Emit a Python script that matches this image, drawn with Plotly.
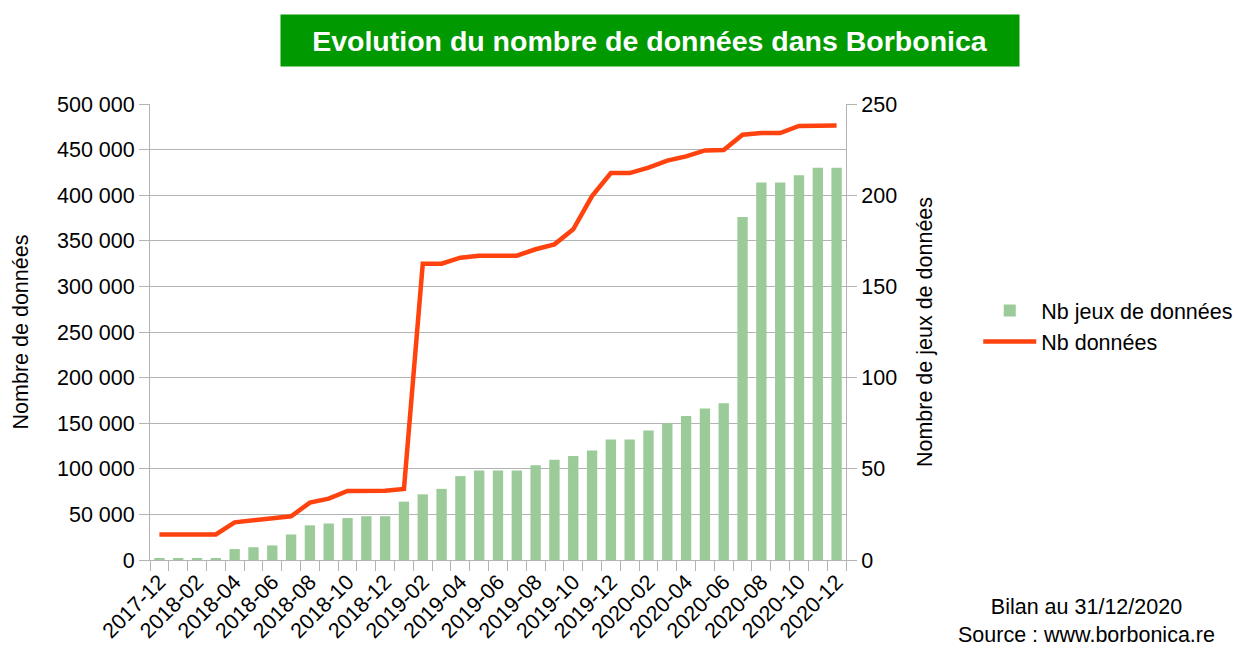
import plotly.graph_objects as go

months = ["2017-12", "2018-01", "2018-02", "2018-03", "2018-04", "2018-05", "2018-06",
          "2018-07", "2018-08", "2018-09", "2018-10", "2018-11", "2018-12",
          "2019-01", "2019-02", "2019-03", "2019-04", "2019-05", "2019-06",
          "2019-07", "2019-08", "2019-09", "2019-10", "2019-11", "2019-12",
          "2020-01", "2020-02", "2020-03", "2020-04", "2020-05", "2020-06",
          "2020-07", "2020-08", "2020-09", "2020-10", "2020-11", "2020-12"]

nb_jeux = [1, 1, 1, 1, 6, 7, 8, 14, 19, 20, 23, 24, 24, 32, 36, 39, 46, 49, 49,
           49, 52, 55, 57, 60, 66, 66, 71, 75, 79, 83, 86, 188, 207, 207, 211, 215, 215]

nb_donnees = [28000, 28000, 28000, 28000, 41300, 43900, 45700, 47900, 62900, 67300,
              75700, 76000, 76000, 77900, 324900, 324900, 331500, 333500, 333700,
              333700, 340700, 346100, 362600, 399100, 424300, 424300, 430200, 437900,
              442600, 449100, 449500, 466400, 468200, 468200, 475900, 476300, 476300]

idx = list(range(len(months)))
tick_idx = idx[::2]
tick_txt = months[::2]

FONT = "Liberation Sans, Arial, sans-serif"
GRID = "#b3b3b3"
FS = 21.5

fig = go.Figure()
fig.add_trace(go.Bar(x=idx, y=nb_jeux, name="Nb jeux de données", yaxis="y2",
                     marker=dict(color="#9bcb98", line=dict(width=0)), width=0.55))
fig.add_trace(go.Scatter(x=idx, y=nb_donnees, name="Nb données", mode="lines",
                         line=dict(color="#ff420e", width=4.5)))

fig.update_layout(
    width=1240, height=646,
    margin=dict(l=150, r=394, t=104, b=86, autoexpand=False),
    paper_bgcolor="white", plot_bgcolor="white",
    font=dict(family=FONT, size=FS, color="#000000"),
    separators=", ",
    showlegend=True,
    legend=dict(x=1.19, y=0.513, xanchor="left", yanchor="middle",
                font=dict(size=FS), traceorder="normal", itemwidth=53,
                bgcolor="rgba(0,0,0,0)"),
    xaxis=dict(range=[-0.5, len(months) - 0.5], tickvals=tick_idx, ticktext=tick_txt,
               tickangle=-45, ticks="", showgrid=False, showline=True, linecolor=GRID,
               linewidth=1, zeroline=False, tickfont=dict(size=FS), automargin=False,
               minor=dict(ticks="outside", tick0=-0.5, dtick=1, ticklen=10,
                          tickcolor=GRID, showgrid=False)),
    yaxis=dict(range=[0, 500000], dtick=50000, tickformat=",d", showgrid=True,
               gridcolor=GRID, gridwidth=1, showline=True, linecolor=GRID,
               ticks="outside", ticklen=10, tickcolor=GRID, zeroline=False,
               automargin=False,
               title=dict(text="Nombre de données", font=dict(size=FS), standoff=22),
               tickfont=dict(size=FS)),
    yaxis2=dict(range=[0, 250], dtick=50, overlaying="y", side="right",
                showgrid=False, showline=True, linecolor=GRID, ticks="outside",
                ticklen=10, tickcolor=GRID, zeroline=False, automargin=False,
                title=dict(text="Nombre de jeux de données", font=dict(size=FS), standoff=20),
                tickfont=dict(size=FS)),
    bargap=0.45,
)

fig.add_annotation(text="<b>Evolution du nombre de données dans Borbonica</b>",
                   xref="paper", yref="paper", x=(650 - 150) / 696, y=(560 - 40.5) / 456,
                   xanchor="center", yanchor="middle", showarrow=False,
                   width=738, height=51, bgcolor="#009900", borderpad=0,
                   font=dict(family=FONT, size=28.5, color="white"))

fig.add_annotation(text="Bilan au 31/12/2020<br>Source : www.borbonica.re",
                   xref="paper", yref="paper", x=(1086 - 150) / 696, y=(560 - 620.5) / 456,
                   xanchor="center", yanchor="middle", showarrow=False, align="center",
                   font=dict(family=FONT, size=21.5, color="black"))

fig.write_html("out.html", post_script="document.body.style.margin='0';",
               config={"displayModeBar": False})
